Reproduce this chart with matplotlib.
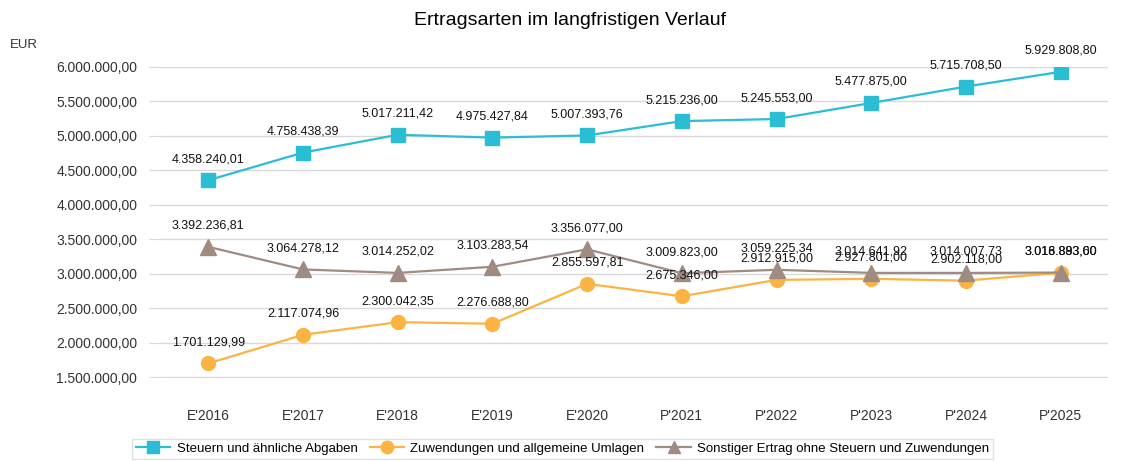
import matplotlib.pyplot as plt
from matplotlib.ticker import FuncFormatter

plt.rcParams['font.family'] = ['Liberation Sans', 'DejaVu Sans']

jahre = ["E'2016", "E'2017", "E'2018", "E'2019", "E'2020",
         "P'2021", "P'2022", "P'2023", "P'2024", "P'2025"]
steuern = [4358240.01, 4758438.39, 5017211.42, 4975427.84, 5007393.76,
           5215236.00, 5245553.00, 5477875.00, 5715708.50, 5929808.80]
zuwendungen = [1701129.99, 2117074.96, 2300042.35, 2276688.80, 2855597.81,
               2675346.00, 2912915.00, 2927801.00, 2902118.00, 3016893.60]
sonstiger = [3392236.81, 3064278.12, 3014252.02, 3103283.54, 3356077.00,
             3009823.00, 3059225.34, 3014641.92, 3014007.73, 3018883.00]


def de(v):
    return f"{v:,.2f}".replace(",", "X").replace(".", ",").replace("X", ".")


fig = plt.figure(figsize=(11.39, 4.61), dpi=100)
ax = fig.add_axes([0.1413, 0.180, 0.8315, 0.6747])

x = list(range(len(jahre)))
reihen = [
    ("Steuern und ähnliche Abgaben", steuern, "#2bbdd4", "s", 10),
    ("Zuwendungen und allgemeine Umlagen", zuwendungen, "#fbb443", "o", 10),
    ("Sonstiger Ertrag ohne Steuern und Zuwendungen", sonstiger, "#a08b83", "^", 11),
]
for name, werte, farbe, marker, ms in reihen:
    ax.plot(x, werte, color=farbe, lw=1.6, marker=marker, ms=ms, label=name, zorder=3)
    for xi, v in zip(x, werte):
        ax.annotate(de(v), (xi, v), xytext=(0, 15), textcoords="offset pixels",
                    ha="center", va="bottom", fontsize=9, color="#111111",
                    annotation_clip=False, zorder=4)

ax.set_xlim(-0.5, len(jahre) - 0.5)
ax.set_ylim(1490000, 6000000)
ax.set_yticks(range(1500000, 6000001, 500000))
ax.yaxis.set_major_formatter(FuncFormatter(lambda v, p: de(v)))
ax.set_xticks(x)
ax.set_xticklabels(jahre)
ax.grid(axis="y", color="#d9d9d9", lw=1)
ax.set_axisbelow(True)
for s in ax.spines.values():
    s.set_visible(False)
ax.tick_params(axis="y", length=9, color="#d9d9d9", labelsize=10, labelcolor="#333333", pad=8)
ax.tick_params(axis="x", length=0, labelsize=10, labelcolor="#333333", pad=22)

fig.text(0.5, 0.955, "Ertragsarten im langfristigen Verlauf", ha="center", va="center", fontsize=14)
fig.text(0.009, 0.902, "EUR", ha="left", va="center", fontsize=9.5, color="#333333")

leg = fig.legend(loc="lower center", bbox_to_anchor=(0.494, -0.01), ncol=3, frameon=True,
                 fancybox=False, edgecolor="#d9d9d9", fontsize=9.5, handlelength=2.6,
                 columnspacing=0.9, handletextpad=0.5, borderpad=0.3)
leg.get_frame().set_linewidth(1)
for h in leg.legend_handles:
    h.set_markersize(9)

fig.savefig("out.png", dpi=100)
